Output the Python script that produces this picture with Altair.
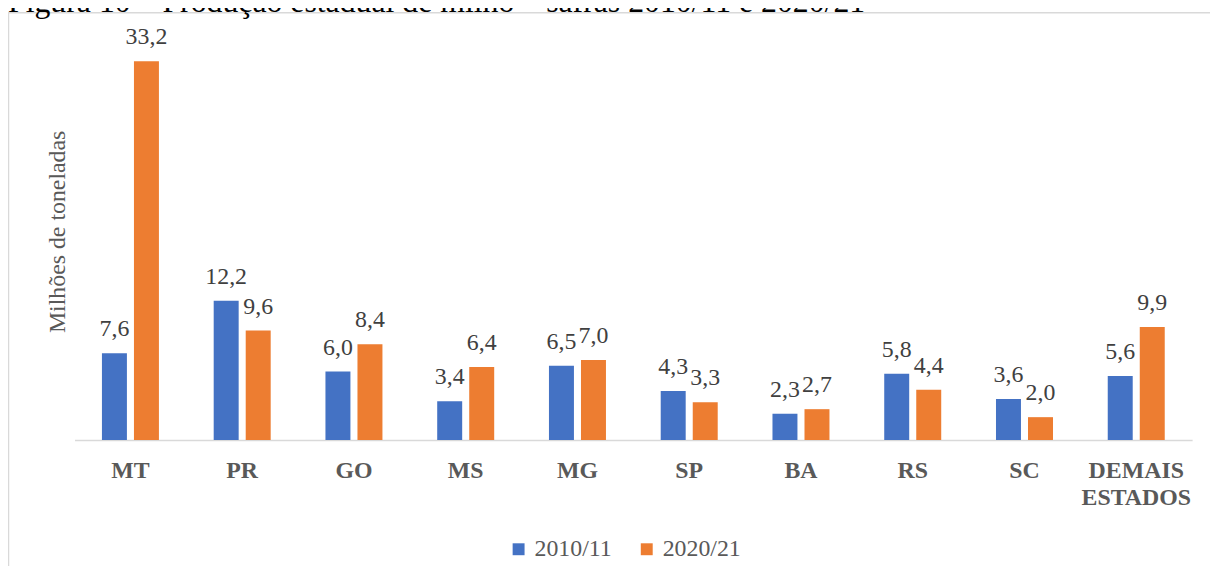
import altair as alt
import pandas as pd

categories = ["MT", "PR", "GO", "MS", "MG", "SP", "BA", "RS", "SC", "DEMAIS ESTADOS"]
series = ["2010/11", "2020/21"]
values_2010 = [7.6, 12.2, 6.0, 3.4, 6.5, 4.3, 2.3, 5.8, 3.6, 5.6]
values_2020 = [33.2, 9.6, 8.4, 6.4, 7.0, 3.3, 2.7, 4.4, 2.0, 9.9]
title_text = "Figura 10 – Produção estadual de milho – safras 2010/11 e 2020/21"
y_title = "Milhões de toneladas"

rows = []
for c, a, b in zip(categories, values_2010, values_2020):
    rows.append({"estado": c, "safra": series[0], "valor": a})
    rows.append({"estado": c, "safra": series[1], "valor": b})
df = pd.DataFrame(rows)

FONT = "Liberation Serif"

x_enc = alt.X(
    "estado:N",
    sort=categories,
    title=None,
    scale=alt.Scale(paddingInner=0.49, paddingOuter=0.245),
    axis=alt.Axis(
        labelAngle=0,
        labelFont=FONT,
        labelFontSize=24,
        labelFontWeight="bold",
        labelColor="#595959",
        labelPadding=19,
        labelLineHeight=27,
        labelExpr="split(datum.value, ' ')",
        ticks=False,
        domainColor="#d9d9d9",
        domainWidth=1.5,
        grid=False,
    ),
)
xoff_enc = alt.XOffset("safra:N", sort=series, scale=alt.Scale(paddingInner=0.22, paddingOuter=0))
y_enc = alt.Y(
    "valor:Q",
    scale=alt.Scale(domain=[0, 35], nice=False),
    axis=alt.Axis(
        labels=False,
        ticks=False,
        domain=False,
        grid=False,
        title=y_title,
        titleFont=FONT,
        titleFontSize=24,
        titleFontWeight="normal",
        titleColor="#595959",
        titleAngle=-90,
        titleX=-10,
        titleY=192,
        titleAlign="center",
        titleBaseline="alphabetic",
    ),
)
color_enc = alt.Color(
    "safra:N",
    sort=series,
    scale=alt.Scale(domain=series, range=["#4472C4", "#ED7D31"]),
    legend=alt.Legend(
        title=None,
        orient="none",
        legendX=435,
        legendY=500,
        direction="horizontal",
        symbolType="square",
        symbolSize=144,
        symbolStrokeWidth=0,
        labelFont=FONT,
        labelFontSize=24,
        labelColor="#595959",
        labelOffset=4,
        columnPadding=23,
        padding=0,
    ),
)

bars = alt.Chart(df).mark_bar().encode(x=x_enc, xOffset=xoff_enc, y=y_enc, color=color_enc)

labels = (
    alt.Chart(df)
    .transform_calculate(lbl="replace(format(datum.valor, '.1f'), '.', ',')")
    .mark_text(font=FONT, fontSize=24, color="#404040", baseline="alphabetic", dy=-17)
    .encode(x=alt.X("estado:N", sort=categories), xOffset=alt.XOffset("safra:N", sort=series), y="valor:Q", text="lbl:N")
)

one = pd.DataFrame({"k": [0]})
border = (
    alt.Chart(one)
    .mark_rect(fillOpacity=0, stroke="#d9d9d9", strokeWidth=1.5)
    .encode(x=alt.value(-66.5), x2=alt.value(1300), y=alt.value(-28), y2=alt.value(800))
)
title = (
    alt.Chart(one)
    .mark_text(text=title_text, font=FONT, fontSize=32, color="#000000", align="left", baseline="alphabetic")
    .encode(x=alt.value(-67), y=alt.value(-29))
)

chart = (
    alt.layer(border, bars, labels, title)
    .properties(
        width=1125,
        height=402,
        autosize=alt.AutoSizeParams(type="none"),
        padding={"top": 31, "left": 67, "right": 18, "bottom": 125},
    )
    .configure_view(stroke=None)
)

chart.save("out.html", embed_options={"renderer": "svg", "actions": False})
